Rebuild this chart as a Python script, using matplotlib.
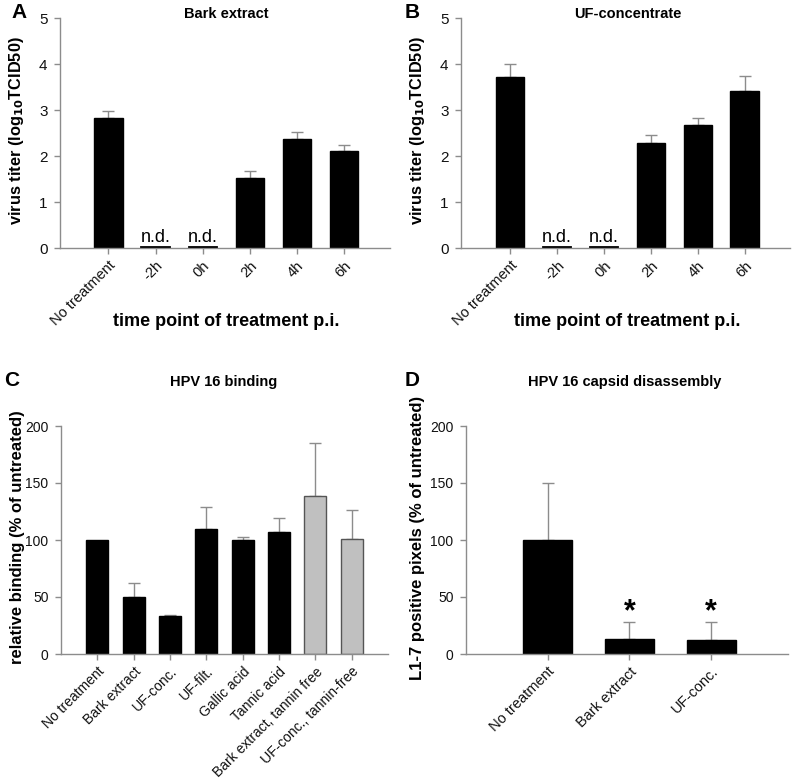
import numpy as np
import matplotlib
matplotlib.use("Agg")
import matplotlib.pyplot as plt

plt.rcParams['font.family'] = ['Liberation Sans', 'DejaVu Sans']

# Panel A / B data
time_labels = ["No treatment", "-2h", "0h", "2h", "4h", "6h"]
bark_titer = [2.83, 0.0, 0.0, 1.52, 2.38, 2.10]
bark_err = [0.15, 0.0, 0.0, 0.16, 0.14, 0.15]
uf_titer = [3.72, 0.0, 0.0, 2.28, 2.68, 3.42]
uf_err = [0.27, 0.0, 0.0, 0.17, 0.14, 0.33]
not_detected = [False, True, True, False, False, False]

# Panel C data
bind_labels = ["No treatment", "Bark extract", "UF-conc.", "UF-filt.", "Gallic acid",
               "Tannic acid", "Bark extract, tannin free", "UF-conc., tannin-free"]
bind_vals = [100, 50, 33, 110, 100, 107, 139, 101]
bind_err = [0, 12, 1.5, 19, 3, 12, 46, 25]
bind_gray = [False, False, False, False, False, False, True, True]

# Panel D data
dis_labels = ["No treatment", "Bark extract", "UF-conc."]
dis_vals = [100, 13, 12]
dis_err = [50, 15, 16]
dis_sig = [False, True, True]

W, H = 797, 781
fig = plt.figure(figsize=(W / 100, H / 100), dpi=100)

SPINE = "#8c8c8c"
ERR = "#8c8c8c"


def px_axes(l, r, t, b):
    return fig.add_axes([l / W, 1 - b / H, (r - l) / W, (b - t) / H])


def style(ax, ysize, xsize=10.5):
    for s in ["top", "right"]:
        ax.spines[s].set_visible(False)
    for s in ["left", "bottom"]:
        ax.spines[s].set_color(SPINE)
        ax.spines[s].set_linewidth(1.0)
    ax.tick_params(axis="y", colors=SPINE, labelcolor="#111111", labelsize=ysize,
                   length=4, width=1, direction="out", pad=5)
    ax.tick_params(axis="x", colors=SPINE, labelcolor="#111111", labelsize=xsize,
                   length=4, width=1, direction="out")


def set_ylabel_px(ax, text, size, xpix, ycen, left, right, top, bottom):
    ax.set_ylabel(text, fontsize=size, fontweight="bold")
    ax.yaxis.set_label_coords((xpix - left) / (right - left),
                              (bottom - ycen) / (bottom - top))


def ftext(xpix, ypix, s, **kw):
    fig.text(xpix / W, 1 - ypix / H, s, ha="center", va="center", **kw)


def titer_panel(ax, vals, errs, left, right, cx):
    x = np.arange(len(time_labels))
    heights = [0 if nd else v for v, nd in zip(vals, not_detected)]
    ax.bar(x, heights, width=0.6, color="black", edgecolor="black", zorder=2)
    for xi, v, e, nd in zip(x, vals, errs, not_detected):
        if nd:
            ax.plot([xi - 0.3, xi + 0.3], [0.03, 0.03], color="black", lw=1.3, zorder=3)
            ax.text(xi, 0.04, "n.d.", ha="center", va="bottom", fontsize=13)
        else:
            ax.errorbar(xi, v, yerr=[[0], [e]], fmt="none", ecolor=ERR,
                        elinewidth=1, capsize=4, capthick=1, zorder=1)
    ax.set_ylim(0, 5)
    ax.set_yticks(range(0, 6))
    ax.set_xticks(x)
    ax.set_xticklabels(time_labels, rotation=45, ha="right", rotation_mode="anchor")
    style(ax, 11)
    set_ylabel_px(ax, r"virus titer (log$_{\mathbf{10}}$TCID50)", 11.8,
                  left - 34, 131, left, right, 18, 248)
    ftext(cx, 322, "time point of treatment p.i.", fontsize=13, fontweight="bold")


axA = px_axes(60, 390, 18, 248)
titer_panel(axA, bark_titer, bark_err, 60, 390, 226)
axA.set_xlim(-1.03, 5.98)
ftext(226, 14, "Bark extract", fontsize=10.5, fontweight="bold")

axB = px_axes(461, 790, 18, 248)
titer_panel(axB, uf_titer, uf_err, 461, 790, 627)
axB.set_xlim(-1.05, 5.97)
ftext(628, 14, "UF-concentrate", fontsize=10.5, fontweight="bold")

# Panel C
axC = px_axes(61, 388, 426, 654)
xc = np.arange(len(bind_labels))
colors = ["#c0c0c0" if g else "black" for g in bind_gray]
edges = ["#555555" if g else "black" for g in bind_gray]
axC.bar(xc, bind_vals, width=0.6, color=colors, edgecolor=edges, linewidth=1, zorder=2)
for xi, v, e in zip(xc, bind_vals, bind_err):
    if e > 0:
        axC.errorbar(xi, v, yerr=[[0], [e]], fmt="none", ecolor=ERR,
                     elinewidth=1, capsize=4, capthick=1, zorder=1)
axC.set_ylim(0, 200)
axC.set_yticks([0, 50, 100, 150, 200])
axC.set_xlim(-1, 8)
axC.set_xticks(xc)
axC.set_xticklabels(bind_labels, rotation=45, ha="right", rotation_mode="anchor")
style(axC, 10, 10)
set_ylabel_px(axC, "relative binding (% of untreated)", 12, 25, 537, 61, 388, 426, 654)
ftext(224, 382, "HPV 16 binding", fontsize=10.5, fontweight="bold")

# Panel D
axD = px_axes(466, 788, 426, 654)
xd = np.arange(len(dis_labels))
axD.bar(xd, dis_vals, width=0.6, color="black", edgecolor="black", zorder=2)
for xi, v, e, s in zip(xd, dis_vals, dis_err, dis_sig):
    axD.errorbar(xi, v, yerr=[[0], [e]], fmt="none", ecolor=ERR,
                 elinewidth=1, capsize=4, capthick=1, zorder=1)
    if s:
        axD.text(xi, v + e + 9, "*", ha="center", va="center", fontsize=22,
                 fontweight="bold")
axD.set_ylim(0, 200)
axD.set_yticks([0, 50, 100, 150, 200])
axD.set_xlim(-1, 2.94)
axD.set_xticks(xd)
axD.set_xticklabels(dis_labels, rotation=45, ha="right", rotation_mode="anchor")
style(axD, 10)
set_ylabel_px(axD, "L1-7 positive pixels (% of untreated)", 12, 425, 537.5,
              466, 788, 426, 654)
ftext(625, 382, "HPV 16 capsid disassembly", fontsize=10.5, fontweight="bold")

# Panel letters
for lab, (x, y) in zip("ABCD", [(19, 12), (412, 12), (12, 381), (412, 381)]):
    ftext(x, y, lab, fontsize=15, fontweight="bold")

fig.savefig("out.png", dpi=100)
